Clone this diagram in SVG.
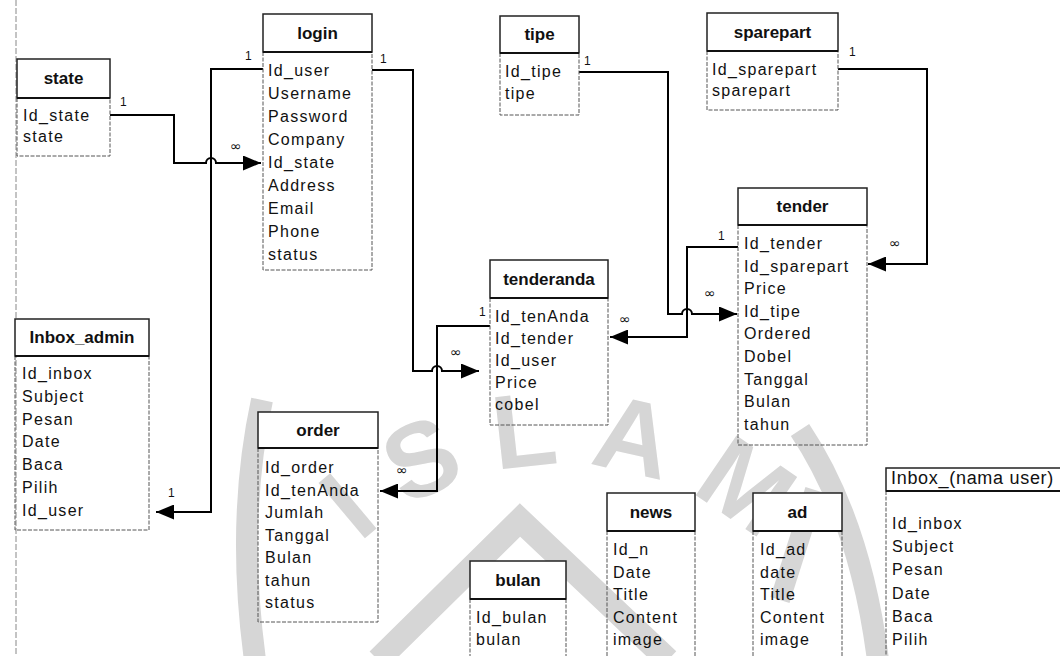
<svg xmlns="http://www.w3.org/2000/svg" width="1060" height="656" viewBox="0 0 1060 656">
<defs>
<marker id="arr" markerUnits="userSpaceOnUse" markerWidth="18" markerHeight="15" refX="18" refY="7.5" orient="auto">
<path d="M0,0 L18,7.5 L0,15 z" fill="#000"/>
</marker>
<style>
.hd{fill:#fff;stroke:#222;stroke-width:1.5}
.bd{fill:none;stroke:#555;stroke-width:1;stroke-dasharray:4 1.5}
.sep{stroke:#111;stroke-width:2}
.ht{font-family:"Liberation Sans",Arial,sans-serif;font-size:17px;font-weight:bold;text-anchor:middle;fill:#111}
.ft{font-family:"Liberation Sans",Arial,sans-serif;font-size:16px;letter-spacing:1.3px;fill:#111}
.cn{fill:none;stroke:#000;stroke-width:2}
.lb{font-family:"Liberation Sans",Arial,sans-serif;font-size:12px;fill:#111}
.inf{font-family:"DejaVu Sans",sans-serif;font-size:14px;fill:#111}
.wm{fill:none;stroke:#d6d6d6;stroke-linecap:butt}
</style>
</defs>
<rect width="1060" height="656" fill="#fff"/>
<g id="watermark">
<path id="wmarc" d="M334,570 A295,295 0 0 1 786,570" fill="none"/>
<text font-family="Liberation Sans,Arial,sans-serif" font-weight="bold" font-size="105" fill="#d6d6d6" text-anchor="middle"><textPath href="#wmarc" startOffset="50%" textLength="440">ISLAM</textPath></text>
<path class="wm" stroke-width="24" d="M378,660 L520,520 L668,660"/>
<path class="wm" stroke-width="22" d="M262,400 Q236,520 255,660"/>
<path class="wm" stroke-width="22" d="M800,430 Q860,520 878,660"/>
<path class="wm" stroke-width="20" d="M815,490 L780,600"/>
</g>
<line x1="16" y1="0" x2="16" y2="656" stroke="#888" stroke-width="1" stroke-dasharray="6 2"/>
<g id="connectors">
<path class="cn" d="M110,115 H174 V163 H206 a5,5 0 0 1 10,0 H261" marker-end="url(#arr)"/>
<path class="cn" d="M263,69 H211 V512 H156" marker-end="url(#arr)"/>
<path class="cn" d="M372,70 H413 V371 H432 a5,5 0 0 1 10,0 H479" marker-end="url(#arr)"/>
<path class="cn" d="M490,326 H437 V491 H380" marker-end="url(#arr)"/>
<path class="cn" d="M579,72 H668 V314 H682 a5,5 0 0 1 10,0 H737" marker-end="url(#arr)"/>
<path class="cn" d="M738,247 H687 V337 H610" marker-end="url(#arr)"/>
<path class="cn" d="M838,69 H927 V264 H868" marker-end="url(#arr)"/>
<text class="lb" x="120" y="106">1</text>
<text class="inf" x="230" y="151">∞</text>
<text class="lb" x="245" y="60">1</text>
<text class="lb" x="168" y="497">1</text>
<text class="lb" x="380" y="63">1</text>
<text class="inf" x="450" y="357">∞</text>
<text class="lb" x="479" y="316">1</text>
<text class="inf" x="396" y="475">∞</text>
<text class="lb" x="584" y="65">1</text>
<text class="inf" x="704" y="298">∞</text>
<text class="lb" x="718" y="240">1</text>
<text class="inf" x="619" y="324">∞</text>
<text class="lb" x="849" y="56">1</text>
<text class="inf" x="889" y="248">∞</text>
</g>
<g id="state">
<rect class="hd" x="17" y="59" width="93" height="39"/>
<path class="bd" d="M17,98 V156 H110 V98"/>
<line class="sep" x1="17" y1="98" x2="110" y2="98"/>
<text class="ht" x="63.5" y="84">state</text>
<text class="ft" x="23" y="121">Id_state</text>
<text class="ft" x="23" y="142">state</text>
</g>
<g id="login">
<rect class="hd" x="263" y="14" width="109" height="38"/>
<path class="bd" d="M263,52 V270 H372 V52"/>
<line class="sep" x1="263" y1="52" x2="372" y2="52"/>
<text class="ht" x="317.5" y="39">login</text>
<text class="ft" x="268" y="76">Id_user</text>
<text class="ft" x="268" y="99">Username</text>
<text class="ft" x="268" y="122">Password</text>
<text class="ft" x="268" y="145">Company</text>
<text class="ft" x="268" y="168">Id_state</text>
<text class="ft" x="268" y="191">Address</text>
<text class="ft" x="268" y="214">Email</text>
<text class="ft" x="268" y="237">Phone</text>
<text class="ft" x="268" y="260">status</text>
</g>
<g id="tipe">
<rect class="hd" x="500" y="16" width="79" height="37"/>
<path class="bd" d="M500,53 V115 H579 V53"/>
<line class="sep" x1="500" y1="53" x2="579" y2="53"/>
<text class="ht" x="539.5" y="40">tipe</text>
<text class="ft" x="505" y="77">Id_tipe</text>
<text class="ft" x="505" y="99">tipe</text>
</g>
<g id="sparepart">
<rect class="hd" x="707" y="13" width="131" height="38"/>
<path class="bd" d="M707,51 V110 H838 V51"/>
<line class="sep" x1="707" y1="51" x2="838" y2="51"/>
<text class="ht" x="772.5" y="38">sparepart</text>
<text class="ft" x="712" y="75">Id_sparepart</text>
<text class="ft" x="712" y="96">sparepart</text>
</g>
<g id="tender">
<rect class="hd" x="738" y="188" width="129" height="37"/>
<path class="bd" d="M738,225 V445 H867 V225"/>
<line class="sep" x1="738" y1="225" x2="867" y2="225"/>
<text class="ht" x="802.5" y="212">tender</text>
<text class="ft" x="744" y="249">Id_tender</text>
<text class="ft" x="744" y="272">Id_sparepart</text>
<text class="ft" x="744" y="294">Price</text>
<text class="ft" x="744" y="317">Id_tipe</text>
<text class="ft" x="744" y="339">Ordered</text>
<text class="ft" x="744" y="362">Dobel</text>
<text class="ft" x="744" y="385">Tanggal</text>
<text class="ft" x="744" y="407">Bulan</text>
<text class="ft" x="744" y="430">tahun</text>
</g>
<g id="tenderanda">
<rect class="hd" x="490" y="260" width="118" height="38"/>
<path class="bd" d="M490,298 V425 H608 V298"/>
<line class="sep" x1="490" y1="298" x2="608" y2="298"/>
<text class="ht" x="549" y="285">tenderanda</text>
<text class="ft" x="495" y="322">Id_tenAnda</text>
<text class="ft" x="495" y="344">Id_tender</text>
<text class="ft" x="495" y="366">Id_user</text>
<text class="ft" x="495" y="388">Price</text>
<text class="ft" x="495" y="410">cobel</text>
</g>
<g id="inbox_admin">
<rect class="hd" x="15" y="319" width="134" height="37"/>
<path class="bd" d="M15,356 V530 H149 V356"/>
<line class="sep" x1="15" y1="356" x2="149" y2="356"/>
<text class="ht" x="82" y="343">Inbox_admin</text>
<text class="ft" x="22" y="379">Id_inbox</text>
<text class="ft" x="22" y="402">Subject</text>
<text class="ft" x="22" y="425">Pesan</text>
<text class="ft" x="22" y="447">Date</text>
<text class="ft" x="22" y="470">Baca</text>
<text class="ft" x="22" y="493">Pilih</text>
<text class="ft" x="22" y="516">Id_user</text>
</g>
<g id="order">
<rect class="hd" x="258" y="412" width="120" height="36"/>
<path class="bd" d="M258,448 V622 H378 V448"/>
<line class="sep" x1="258" y1="448" x2="378" y2="448"/>
<text class="ht" x="318" y="436">order</text>
<text class="ft" x="265" y="473">Id_order</text>
<text class="ft" x="265" y="496">Id_tenAnda</text>
<text class="ft" x="265" y="518">Jumlah</text>
<text class="ft" x="265" y="541">Tanggal</text>
<text class="ft" x="265" y="563">Bulan</text>
<text class="ft" x="265" y="586">tahun</text>
<text class="ft" x="265" y="608">status</text>
</g>
<g id="news">
<rect class="hd" x="607" y="493" width="88" height="38"/>
<path class="bd" d="M607,531 V660 M695,531 V660"/>
<line class="sep" x1="607" y1="531" x2="695" y2="531"/>
<text class="ht" x="651" y="518">news</text>
<text class="ft" x="613" y="555">Id_n</text>
<text class="ft" x="613" y="578">Date</text>
<text class="ft" x="613" y="600">Title</text>
<text class="ft" x="613" y="623">Content</text>
<text class="ft" x="613" y="645">image</text>
</g>
<g id="ad">
<rect class="hd" x="753" y="493" width="89" height="38"/>
<path class="bd" d="M753,531 V660 M842,531 V660"/>
<line class="sep" x1="753" y1="531" x2="842" y2="531"/>
<text class="ht" x="797.5" y="518">ad</text>
<text class="ft" x="760" y="555">Id_ad</text>
<text class="ft" x="760" y="578">date</text>
<text class="ft" x="760" y="600">Title</text>
<text class="ft" x="760" y="623">Content</text>
<text class="ft" x="760" y="645">image</text>
</g>
<g id="bulan">
<rect class="hd" x="470" y="561" width="96" height="38"/>
<path class="bd" d="M470,599 V660 M566,599 V660"/>
<line class="sep" x1="470" y1="599" x2="566" y2="599"/>
<text class="ht" x="518" y="586">bulan</text>
<text class="ft" x="476" y="623">Id_bulan</text>
<text class="ft" x="476" y="645">bulan</text>
</g>
<g id="inbox_nama_user">
<rect class="hd" x="886" y="468" width="190" height="23"/>
<path class="bd" d="M886,491 V660"/>
<line class="sep" x1="886" y1="491" x2="1076" y2="491"/>
<text x="891" y="484" font-family="Liberation Sans,Arial,sans-serif" font-size="18" letter-spacing="0.7" fill="#111">Inbox_(nama user)</text>
<text class="ft" x="892" y="529">Id_inbox</text>
<text class="ft" x="892" y="552">Subject</text>
<text class="ft" x="892" y="575">Pesan</text>
<text class="ft" x="892" y="599">Date</text>
<text class="ft" x="892" y="622">Baca</text>
<text class="ft" x="892" y="645">Pilih</text>
</g>
</svg>
